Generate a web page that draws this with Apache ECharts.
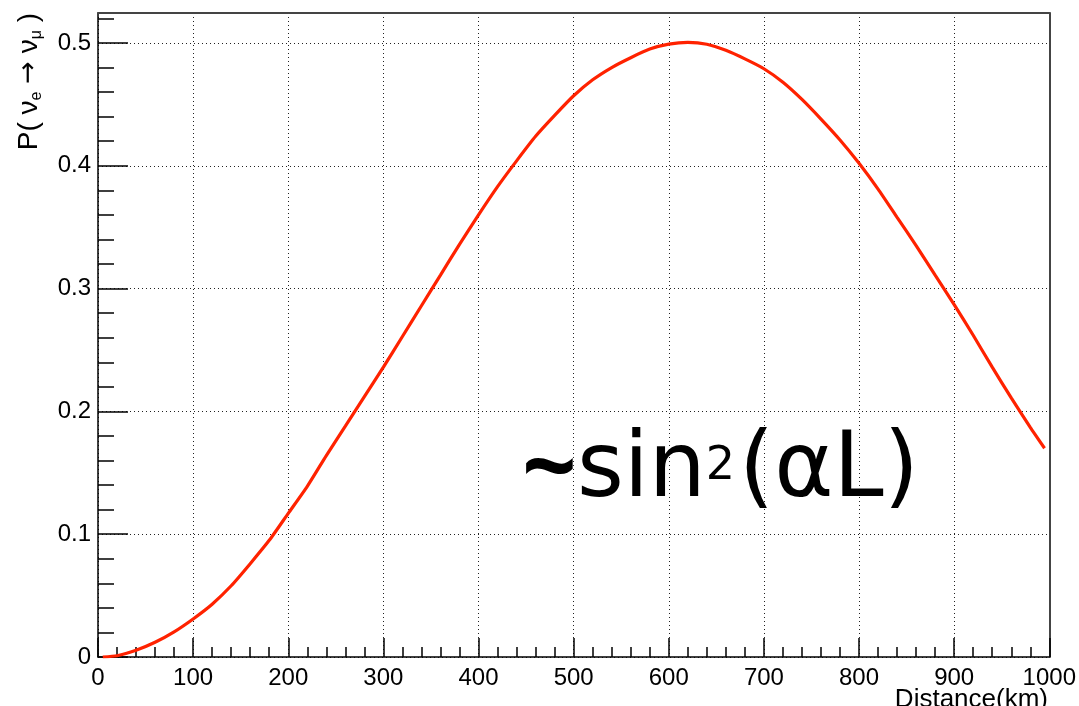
<!DOCTYPE html>
<html>
<head>
<meta charset="utf-8">
<script src="https://cdn.jsdelivr.net/npm/echarts@6/dist/echarts.min.js"></script>
<style>
  html, body { margin: 0; padding: 0; background: #ffffff; }
  #chart { width: 1079px; height: 706px; }
</style>
</head>
<body>
<div id="chart"></div>
<script>
// Oscillation probability P(νe → νμ) versus travelled distance
const distanceKm = [5, 20, 40, 60, 80, 100, 120, 140, 160, 180, 200, 220, 240, 260, 280, 300,
  320, 340, 360, 380, 400, 420, 440, 460, 480, 500, 520, 540, 560, 580, 600, 620, 640, 660,
  680, 700, 720, 740, 760, 780, 800, 820, 840, 860, 880, 900, 920, 940, 960, 980, 995];
const probability = [0, 0.001, 0.0055, 0.012, 0.0205, 0.031, 0.043, 0.058, 0.076, 0.095, 0.117,
  0.139, 0.164, 0.188, 0.212, 0.236, 0.261, 0.286, 0.311, 0.336, 0.360, 0.383, 0.404, 0.424,
  0.441, 0.457, 0.470, 0.480, 0.488, 0.495, 0.499, 0.5005, 0.499, 0.494, 0.487, 0.479, 0.468,
  0.454, 0.438, 0.421, 0.402, 0.381, 0.358, 0.335, 0.311, 0.287, 0.262, 0.236, 0.211, 0.187, 0.170];

const yMajorTicks = [0, 0.1, 0.2, 0.3, 0.4, 0.5];
const yMinorTicks = [0.02, 0.04, 0.06, 0.08, 0.12, 0.14, 0.16, 0.18, 0.22, 0.24, 0.26, 0.28,
  0.32, 0.34, 0.36, 0.38, 0.42, 0.44, 0.46, 0.48, 0.52];
const xRange = [0, 1000];
const yRange = [0, 0.5244];

const labelFont = 'Liberation Sans, Arial, Helvetica, sans-serif';
const points = distanceKm.map((d, i) => [d, probability[i]]);

const chart = echarts.init(document.getElementById('chart'), null, { renderer: 'canvas' });

const dotted = { show: true, lineStyle: { type: [1, 3], color: '#222', width: 1 } };

chart.setOption({
  animation: false,
  backgroundColor: '#ffffff',
  grid: { left: 98, right: 29, top: 13, bottom: 49, containLabel: false },
  xAxis: [
    {
      type: 'value', position: 'bottom', min: xRange[0], max: xRange[1], interval: 100,
      axisLine: { show: true, onZero: false, lineStyle: { color: '#000', width: 1.5 } },
      axisTick: { show: true, inside: true, length: 19, lineStyle: { color: '#000', width: 1.5 } },
      minorTick: { show: true, splitNumber: 5, length: 10, lineStyle: { color: '#000', width: 1.5 } },
      axisLabel: { show: true, color: '#000', fontSize: 24, fontFamily: labelFont, margin: 9,
        formatter: v => String(v) },
      splitLine: dotted,
      minorSplitLine: { show: false }
    },
    {
      type: 'value', position: 'top', min: xRange[0], max: xRange[1],
      axisLine: { show: true, onZero: false, lineStyle: { color: '#444', width: 2 } },
      axisTick: { show: false }, axisLabel: { show: false }, splitLine: { show: false }
    }
  ],
  yAxis: [
    {
      type: 'value', position: 'left', min: yRange[0], max: yRange[1], interval: 0.1,
      axisLine: { show: true, onZero: false, lineStyle: { color: '#000', width: 1.5 } },
      axisTick: { show: true, inside: true, length: 30, customValues: yMajorTicks,
        lineStyle: { color: '#000', width: 1.5 } },
      axisLabel: { show: true, color: '#000', fontSize: 24, fontFamily: labelFont, margin: 7,
        customValues: yMajorTicks,
        formatter: v => (v === 0 ? '0' : v.toFixed(1)) },
      splitLine: dotted
    },
    {
      type: 'value', position: 'left', min: yRange[0], max: yRange[1],
      axisLine: { show: false },
      axisTick: { show: true, inside: true, length: 16, customValues: yMinorTicks,
        lineStyle: { color: '#000', width: 1.5 } },
      axisLabel: { show: false }, splitLine: { show: false }
    },
    {
      type: 'value', position: 'right', min: yRange[0], max: yRange[1],
      axisLine: { show: true, onZero: false, lineStyle: { color: '#444', width: 2 } },
      axisTick: { show: false }, axisLabel: { show: false }, splitLine: { show: false }
    }
  ],
  series: [
    {
      type: 'line', xAxisIndex: 0, yAxisIndex: 0, data: points,
      showSymbol: false, smooth: 0.2, z: 5,
      lineStyle: { color: '#ff2200', width: 3.2 }
    }
  ],
  graphic: [
    {
      type: 'text', x: 29, y: 13, rotation: Math.PI / 2, z: 10,
      style: {
        text: '{m|P(}{m| ν}{s|e}{m| }{a|→}{m| ν}{s|μ}{m| )}',
        align: 'right', verticalAlign: 'middle', fill: '#000',
        rich: {
          m: { fontSize: 28, fontFamily: labelFont, lineHeight: 32, fill: '#000' },
          a: { fontSize: 27, fontFamily: 'DejaVu Sans, sans-serif', lineHeight: 32, fill: '#000' },
          s: { fontSize: 16, fontFamily: labelFont, lineHeight: 12, verticalAlign: 'bottom', fill: '#000' }
        }
      }
    },
    {
      type: 'text', x: 1048, y: 687, z: 10,
      style: {
        text: 'Distance(km)', align: 'right', verticalAlign: 'top',
        font: '26px ' + labelFont, fill: '#000'
      }
    },
    {
      type: 'text', x: 522, y: 473, z: 10,
      style: {
        text: '{t|~}{b|sin}{p|2}{c|(αL)}',
        align: 'left', verticalAlign: 'middle', fill: '#000',
        rich: {
          t: { fontSize: 96, fontWeight: 'bold', fontFamily: 'Open Sans, sans-serif', lineHeight: 100, fill: '#000' },
          b: { fontSize: 90, fontFamily: 'DejaVu Sans, sans-serif', lineHeight: 100, fill: '#000' },
          p: { fontSize: 46, fontFamily: 'DejaVu Sans, sans-serif', lineHeight: 100, verticalAlign: 'top',
            padding: [21, 0, 0, 0], fill: '#000' },
          c: { fontSize: 90, fontFamily: 'DejaVu Sans, sans-serif', lineHeight: 100, padding: [0, 0, 0, 4], fill: '#000' }
        }
      }
    }
  ]
});
</script>
</body>
</html>
